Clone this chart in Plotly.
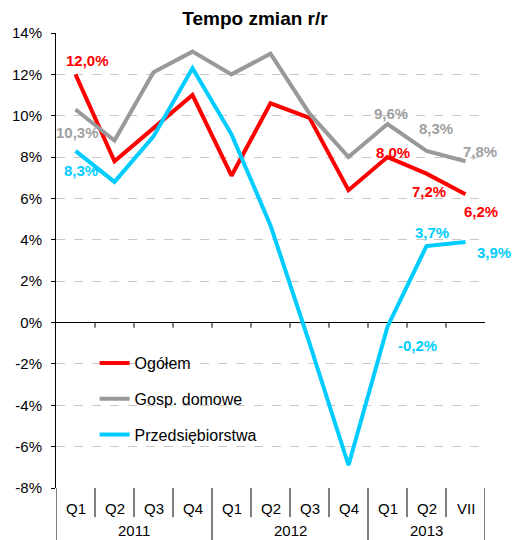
import plotly.graph_objects as go

categories = ["Q1", "Q2", "Q3", "Q4", "Q1", "Q2", "Q3", "Q4", "Q1", "Q2", "VII"]
years = ["2011", "2012", "2013"]
year_spans = [(0, 4), (4, 8), (8, 11)]

ogolem = [12.0, 7.8, 9.4, 11.0, 7.1, 10.6, 9.9, 6.4, 8.0, 7.2, 6.2]
gosp_domowe = [10.3, 8.8, 12.1, 13.1, 12.0, 13.0, 10.1, 8.0, 9.6, 8.3, 7.8]
przedsiebiorstwa = [8.3, 6.8, 9.0, 12.3, 9.1, 4.7, -1.0, -6.9, -0.2, 3.7, 3.9]

y_ticks = [14, 12, 10, 8, 6, 4, 2, 0, -2, -4, -6, -8]
y_tick_labels = ["14%", "12%", "10%", "8%", "6%", "4%", "2%", "0%", "-2%", "-4%", "-6%", "-8%"]

RED = "#FF0000"
GRAY = "#A0A0A0"
BLUE = "#00CCFF"
FONT = "Liberation Sans, Arial, sans-serif"

x = list(range(len(categories)))

fig = go.Figure()
series = [("Ogółem", ogolem, RED), ("Gosp. domowe", gosp_domowe, "#999999"),
          ("Przedsiębiorstwa", przedsiebiorstwa, BLUE)]
for i, (name, vals, col) in enumerate(series):
    fig.add_trace(go.Scatter(x=x, y=vals, mode="lines", name=name,
                             line=dict(color=col, width=4), legendgroup=str(i)))

def fmt(v):
    return ("%.1f" % v).replace(".", ",") + "%"

# (series values, color, index, xshift, yshift)
labels = [
    (ogolem, RED, 0, 12, 14),
    (gosp_domowe, GRAY, 0, 2, -23),
    (przedsiebiorstwa, BLUE, 0, 5, -20),
    (gosp_domowe, GRAY, 8, 3, 11),
    (ogolem, RED, 8, 5, 5),
    (gosp_domowe, GRAY, 9, 9, 22),
    (ogolem, RED, 9, 2, -18),
    (gosp_domowe, GRAY, 10, 14, 10),
    (ogolem, RED, 10, 15, -17),
    (przedsiebiorstwa, BLUE, 9, 5, 14),
    (przedsiebiorstwa, BLUE, 10, 28, -11),
    (przedsiebiorstwa, BLUE, 8, 30, -19),
]
for vals, col, idx, xs, ys in labels:
    fig.add_annotation(x=idx, y=vals[idx], text="<b>%s</b>" % fmt(vals[idx]),
                       showarrow=False, xshift=xs, yshift=ys,
                       font=dict(color=col, size=15, family=FONT))

# category labels
for i, c in enumerate(categories):
    fig.add_annotation(x=i, y=-0.046, yref="paper", yanchor="middle", text=c, showarrow=False,
                       font=dict(size=15, color="black", family=FONT))
for (a, b), yr in zip(year_spans, years):
    fig.add_annotation(x=(a + b - 1) / 2, y=-0.0945, yref="paper", yanchor="middle", text=yr,
                       showarrow=False, font=dict(size=15, color="black", family=FONT))

# separators
long_bounds = set([a for a, b in year_spans] + [year_spans[-1][1]])
for k in range(len(categories) + 1):
    y1 = -0.12 if k in long_bounds else -0.064
    fig.add_shape(type="line", x0=k - 0.5, x1=k - 0.5, y0=0, y1=y1, xref="x", yref="paper",
                  line=dict(color="black", width=1))
    if 0 < k < len(categories):
        fig.add_shape(type="line", x0=k - 0.5, x1=k - 0.5, y0=0, y1=-0.25, xref="x", yref="y",
                      line=dict(color="black", width=1))

fig.update_layout(
    width=513, height=540,
    margin=dict(l=54, r=28, t=33, b=52),
    paper_bgcolor="white", plot_bgcolor="white",
    title=dict(text="<b>Tempo zmian r/r</b>", x=255 / 513, xanchor="center", y=1 - 18 / 540,
               yanchor="middle", font=dict(size=19, color="black", family=FONT)),
    showlegend=True,
    legend=dict(x=0.09, y=0.312, xanchor="left", yanchor="top", bgcolor="rgba(0,0,0,0)",
                font=dict(size=16, color="black", family=FONT), tracegroupgap=12),
    font=dict(family=FONT),
)
fig.update_xaxes(range=[-0.5, len(categories) - 0.5], showticklabels=False, showgrid=False,
                 zeroline=False, showline=False, ticks="")
fig.update_yaxes(range=[-8, 14], tickvals=y_ticks, ticktext=y_tick_labels,
                 showgrid=True, gridcolor="#C8C8C8", griddash="dash", gridwidth=1,
                 zeroline=True, zerolinecolor="black", zerolinewidth=1,
                 showline=True, linecolor="black", linewidth=1,
                 ticks="outside", ticklen=4, tickcolor="black", ticklabelstandoff=6,
                 tickfont=dict(size=15, color="black", family=FONT))

fig.write_html("out.html", config={"displayModeBar": False},
               post_script="document.body.style.margin='0';document.body.style.overflow='hidden';")
